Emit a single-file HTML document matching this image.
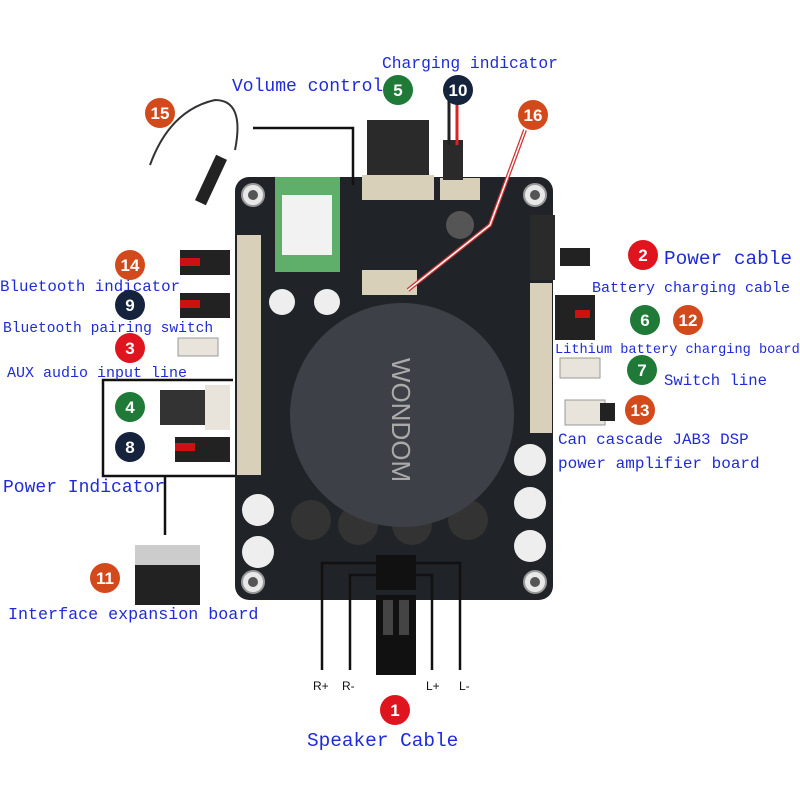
<!DOCTYPE html>
<html><head><style>
body{margin:0;background:#fff;width:800px;height:800px;overflow:hidden}
svg{display:block}
.t{font-family:"Liberation Mono","DejaVu Sans Mono",monospace;fill:#1f2bd8}
.n{font-family:"Liberation Sans",sans-serif;font-weight:bold;fill:#fff;font-size:17px;text-anchor:middle}
</style></head><body>
<svg width="800" height="800" viewBox="0 0 800 800">
<rect x="235" y="177" width="318" height="423" rx="14" fill="#202327"/>
<g fill="#e8e8e8" stroke="#999" stroke-width="2">
<circle cx="253" cy="195" r="11"/><circle cx="535" cy="195" r="11"/>
<circle cx="253" cy="582" r="11"/><circle cx="535" cy="582" r="11"/>
</g>
<g fill="#555"><circle cx="253" cy="195" r="5"/><circle cx="535" cy="195" r="5"/><circle cx="253" cy="582" r="5"/><circle cx="535" cy="582" r="5"/></g>
<rect x="275" y="177" width="65" height="95" fill="#5fae6a"/>
<rect x="282" y="195" width="50" height="60" fill="#f2f2f2"/>
<rect x="237" y="235" width="24" height="240" fill="#d8d0b8"/>
<rect x="530" y="283" width="22" height="150" fill="#d8d0b8"/>
<rect x="362" y="175" width="72" height="25" fill="#d8d0b8"/>
<rect x="440" y="178" width="40" height="22" fill="#d8d0b8"/>
<rect x="367" y="120" width="62" height="55" fill="#2a2a2a"/>
<rect x="443" y="140" width="20" height="40" fill="#2a2a2a"/>
<line x1="449" y1="100" x2="449" y2="145" stroke="#222" stroke-width="3"/>
<line x1="457" y1="100" x2="457" y2="145" stroke="#d22" stroke-width="3"/>
<rect x="362" y="270" width="55" height="25" fill="#d8d0b8"/>
<circle cx="460" cy="225" r="14" fill="#555"/>
<g fill="#eee"><circle cx="282" cy="302" r="13"/><circle cx="327" cy="302" r="13"/><circle cx="258" cy="510" r="16"/><circle cx="258" cy="552" r="16"/><circle cx="530" cy="460" r="16"/><circle cx="530" cy="503" r="16"/><circle cx="530" cy="546" r="16"/></g>
<g fill="#333"><circle cx="311" cy="520" r="20"/><circle cx="358" cy="525" r="20"/><circle cx="412" cy="525" r="20"/><circle cx="468" cy="520" r="20"/></g>
<circle cx="402" cy="415" r="112" fill="#3d4147"/>
<text x="0" y="0" transform="translate(392,420) rotate(90)" font-family="Liberation Sans" font-size="26" fill="#aaa" text-anchor="middle">WONDOM</text>
<rect x="530" y="215" width="25" height="65" fill="#2a2a2a"/>
<rect x="560" y="248" width="30" height="18" fill="#222"/>
<rect x="180" y="250" width="50" height="25" fill="#222"/><rect x="180" y="258" width="20" height="8" fill="#c11"/>
<rect x="180" y="293" width="50" height="25" fill="#222"/><rect x="180" y="300" width="20" height="8" fill="#c11"/>
<rect x="178" y="338" width="40" height="18" fill="#e8e4dc" stroke="#999"/>
<rect x="160" y="390" width="60" height="35" fill="#333"/>
<rect x="205" y="385" width="25" height="45" fill="#e8e4dc"/>
<rect x="175" y="437" width="55" height="25" fill="#222"/><rect x="175" y="443" width="20" height="8" fill="#c11"/>
<rect x="555" y="295" width="40" height="45" fill="#222"/><rect x="575" y="310" width="15" height="8" fill="#c11"/>
<rect x="560" y="358" width="40" height="20" fill="#e8e4dc" stroke="#999"/>
<rect x="565" y="400" width="40" height="25" fill="#e8e4dc" stroke="#999"/>
<rect x="600" y="403" width="15" height="18" fill="#222"/>
<path d="M150 165 Q170 110 215 100 Q245 100 235 150" fill="none" stroke="#333" stroke-width="2"/>
<rect x="205" y="155" width="12" height="50" transform="rotate(25 211 180)" fill="#222"/>
<rect x="135" y="545" width="65" height="20" fill="#ccc"/>
<rect x="135" y="565" width="65" height="40" fill="#222"/>
<path d="M408 290 L490 225 L525 130" fill="none" stroke="#c33" stroke-width="4"/>
<path d="M408 290 L490 225 L525 130" fill="none" stroke="#fff" stroke-width="1.5"/>
<g fill="none" stroke="#111" stroke-width="2.5">
<path d="M253 128 L353 128 L353 185"/>
<path d="M233 380 L103 380 L103 476 L235 476"/>
<path d="M165 476 L165 535"/>
<path d="M322 670 L322 563 L380 563"/>
<path d="M350 670 L350 575 L380 575"/>
<path d="M432 670 L432 575 L412 575"/>
<path d="M460 670 L460 563 L412 563"/>
</g>
<rect x="376" y="555" width="40" height="35" fill="#111"/>
<rect x="376" y="595" width="40" height="80" fill="#111"/>
<rect x="383" y="600" width="10" height="35" fill="#444"/><rect x="399" y="600" width="10" height="35" fill="#444"/>
<g class="t">
<text x="382" y="68" font-size="16.3">Charging indicator</text>
<text x="232" y="91" font-size="18">Volume control</text>
<text x="664" y="264" font-size="19.4">Power cable</text>
<text x="0" y="291" font-size="15.8">Bluetooth indicator</text>
<text x="592" y="292" font-size="15">Battery charging cable</text>
<text x="3" y="332" font-size="14.6">Bluetooth pairing switch</text>
<text x="555" y="353" font-size="13.6">Lithium battery charging board</text>
<text x="7" y="377" font-size="15">AUX audio input line</text>
<text x="664" y="385" font-size="15.6">Switch line</text>
<text x="558" y="444" font-size="15.9">Can cascade JAB3 DSP</text>
<text x="558" y="468" font-size="16">power amplifier board</text>
<text x="3" y="492" font-size="18">Power Indicator</text>
<text x="8" y="619" font-size="16.7">Interface expansion board</text>
<text x="307" y="746" font-size="19.4">Speaker Cable</text>
</g>
<g font-family="Liberation Sans" font-size="12" fill="#111">
<text x="313" y="690">R+</text><text x="342" y="690">R-</text><text x="426" y="690">L+</text><text x="459" y="690">L-</text>
</g>
<g>
<circle cx="398" cy="90" r="15" fill="#1e7a36"/><text class="n" x="398" y="96">5</text>
<circle cx="458" cy="90" r="15" fill="#15233d"/><text class="n" x="458" y="96">10</text>
<circle cx="533" cy="115" r="15" fill="#d2491c"/><text class="n" x="533" y="121">16</text>
<circle cx="160" cy="113" r="15" fill="#d2491c"/><text class="n" x="160" y="119">15</text>
<circle cx="643" cy="255" r="15" fill="#e0141e"/><text class="n" x="643" y="261">2</text>
<circle cx="130" cy="265" r="15" fill="#d2491c"/><text class="n" x="130" y="271">14</text>
<circle cx="130" cy="305" r="15" fill="#15233d"/><text class="n" x="130" y="311">9</text>
<circle cx="130" cy="348" r="15" fill="#e0141e"/><text class="n" x="130" y="354">3</text>
<circle cx="645" cy="320" r="15" fill="#1e7a36"/><text class="n" x="645" y="326">6</text>
<circle cx="688" cy="320" r="15" fill="#d2491c"/><text class="n" x="688" y="326">12</text>
<circle cx="642" cy="370" r="15" fill="#1e7a36"/><text class="n" x="642" y="376">7</text>
<circle cx="130" cy="407" r="15" fill="#1e7a36"/><text class="n" x="130" y="413">4</text>
<circle cx="130" cy="447" r="15" fill="#15233d"/><text class="n" x="130" y="453">8</text>
<circle cx="640" cy="410" r="15" fill="#d2491c"/><text class="n" x="640" y="416">13</text>
<circle cx="105" cy="578" r="15" fill="#d2491c"/><text class="n" x="105" y="584">11</text>
<circle cx="395" cy="710" r="15" fill="#e0141e"/><text class="n" x="395" y="716">1</text>
</g>
</svg>
</body></html>
